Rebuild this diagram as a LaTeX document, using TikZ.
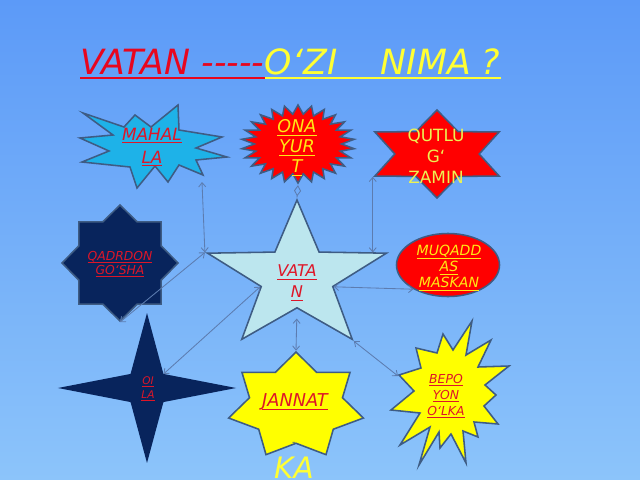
\documentclass[tikz,border=0pt]{standalone}
\usepackage{fontspec}
\setmainfont{DejaVu Sans}[Ligatures=TeXOff]
\usepackage{tikz}
\usepackage{xcolor}
\usetikzlibrary{positioning,shapes.geometric,arrows.meta}

\definecolor{bgtop}{RGB}{92,154,248}
\definecolor{bgbot}{RGB}{140,196,250}
\definecolor{edge}{RGB}{62,92,132}
\definecolor{linkcol}{RGB}{92,124,176}
\definecolor{tred}{RGB}{232,6,30}
\definecolor{tyel}{RGB}{255,255,51}
\definecolor{lred}{RGB}{222,22,40}
\definecolor{lyel}{RGB}{255,232,20}
\definecolor{qyel}{RGB}{236,242,84}
\definecolor{skyfill}{RGB}{30,178,232}
\definecolor{navyfill}{RGB}{8,36,92}
\definecolor{icefill}{RGB}{188,230,238}
\definecolor{sunfill}{RGB}{255,255,0}
\definecolor{firefill}{RGB}{255,0,0}

% underline close to the letters
\newcommand{\uln}[1]{\setbox0\hbox{#1}\rlap{\vrule width\wd0 height -0.13em depth 0.19em}\box0}

\tikzset{
  shapebox/.style={draw=edge, line width=1.1pt, inner sep=0pt},
  burst/.style={draw=edge, line width=1.1pt, line join=miter},
  stretch/.style={xscale=#1, transform shape},
  lbl/.style={align=center, inner sep=0pt},
  link/.style={draw=linkcol, line width=0.6pt, <->},
}

\begin{document}
\begin{tikzpicture}[x=0.025cm, y=0.025cm, >={Straight Barb[length=3pt,width=5pt]}]
  \shade[top color=bgtop, bottom color=bgbot] (0,0) rectangle (640,-480);
  \useasboundingbox (0,0) rectangle (640,-480);

  % title
  \node[lbl, anchor=base west, text=tred, font=\itshape\fontsize{24.7}{30}\selectfont] (title-vatan) at (80,-74) {VATAN -----};
  \node[lbl, anchor=base west, text=tyel, font=\itshape\fontsize{24.7}{30}\selectfont] (title-nima) at (title-vatan.base east) {O‘ZI\ \ \ \kern0.3em NIMA ?};
  \draw[tred, line width=1.5pt] ([yshift=-2.7pt]title-vatan.base west) -- ([yshift=-2.7pt]title-vatan.base east);
  \draw[tyel, line width=1.5pt] ([yshift=-2.7pt]title-nima.base west) -- ([yshift=-2.7pt]title-nima.base east);

  % shapes
  \filldraw[burst, fill=skyfill] (80,-138) -- (113,-135) -- (83,-113) -- (124,-127) -- (135,-115) -- (151,-127)
    -- (178,-105) -- (179,-130) -- (222,-137) -- (196,-148) -- (227,-157) -- (196,-160) -- (203,-175)
    -- (179,-165) -- (168,-182) -- (155,-166) -- (137,-188) -- (130,-167) -- (82,-162) -- (109,-151) -- cycle;
  \node[shapebox, star, star points=26, star point ratio=1.3, fill=firefill, minimum size=1.95cm,
        shift={(298,-144)}, stretch=1.45] (onayurt) {};
  \node[shapebox, star, star points=6, star point ratio=1.7, fill=firefill, minimum size=2.2cm,
        shift={(437,-154)}, stretch=1.63] (qutlug) {};
  \node[shapebox, star, star points=8, star point ratio=1.3, fill=navyfill, minimum size=2.9cm,
        shift={(120,-263)}, stretch=1] (qadrdon) {};
  \node[shapebox, star, star points=5, star point ratio=2.5, fill=icefill, minimum size=3.85cm,
        shift={(297,-277)}, stretch=1.22] (vatan) {};
  \node[shapebox, ellipse, fill=firefill, minimum width=2.575cm, minimum height=1.575cm] (muqaddas) at (448,-265) {};
  \node[shapebox, star, star points=4, star point ratio=3.8, fill=navyfill, draw=navyfill, minimum size=3.6cm,
        shift={(147,-388)}, stretch=1.18] (oila) {};
  \node[shapebox, star, star points=7, star point ratio=1.45, fill=sunfill, minimum size=2.7cm,
        shift={(296,-406)}, stretch=1.28] (jannat) {};
  \filldraw[burst, fill=sunfill] (472,-321) -- (466,-355) -- (491,-340) -- (478,-367) -- (509,-366) -- (485,-385)
    -- (496,-395) -- (484,-406) -- (498,-424) -- (474,-422) -- (478,-437) -- (463,-431) -- (466,-463)
    -- (451,-434) -- (440,-448) -- (439,-432) -- (419,-465) -- (430,-427) -- (400,-445) -- (420,-413)
    -- (391,-410) -- (414,-391) -- (399,-375) -- (421,-368) -- (416,-348) -- (437,-353) -- (443,-334)
    -- (453,-350) -- cycle;

  % labels
  \node[lbl, text=lred, font=\itshape\fontsize{12}{16.4}\selectfont] (mahalla) at (152,-147) {\uln{MAHAL}\\\uln{LA}};
  \node[lbl, text=lyel, font=\itshape\fontsize{12.5}{14.2}\selectfont] (onayurt-txt) at (297,-148) {\uln{ONA}\\\uln{YUR}\\\uln{T}};
  \node[lbl, text=qyel, font=\fontsize{12}{15}\selectfont] (qutlug-txt) at (436,-156) {QUTLU\\G‘\\ZAMIN};
  \node[lbl, text=lred, font=\itshape\fontsize{8.8}{9.4}\selectfont] (qadrdon-txt) at (120,-264) {\uln{QADRDON}\\\uln{GO‘SHA}};
  \node[lbl, text=lred, font=\itshape\fontsize{11.5}{15}\selectfont] (vatan-txt) at (297,-283) {\uln{VATA}\\\uln{N}};
  \node[lbl, text=lyel, font=\itshape\fontsize{10}{11.4}\selectfont] (muqaddas-txt) at (449,-268) {\uln{MUQADD}\\\uln{AS}\\\uln{MASKAN}};
  \node[lbl, text=lred, font=\itshape\fontsize{7.5}{10}\selectfont] (oila-txt) at (148,-389) {\uln{OI}\\\uln{LA}};
  \node[lbl, text=lred, font=\itshape\fontsize{12.6}{15}\selectfont] (jannat-txt) at (295,-402) {\uln{JANNAT}};
  \node[lbl, text=lred, font=\itshape\fontsize{8.8}{11.4}\selectfont] (bepoyon) at (446,-396) {\uln{BEPO}\\\uln{YON}\\\uln{O‘LKA}};
  \node[lbl, text=edge, font=\fontsize{7}{8}\selectfont] (jannat-dash) at (294,-444) {-};
  \node[lbl, anchor=north, text=tyel, font=\itshape\fontsize{21}{25}\selectfont] (jannat-ka) at (294,-457) {KA};

  % link ends beside the bursts
  \coordinate (mahalla-foot) at (202,-182);
  \coordinate (bepoyon-side) at (398,-376);

  % links
  \draw[link] (vatan.outer point 2) -- (mahalla-foot);
  \draw[link] (vatan.outer point 2) -- (qadrdon.outer point 5);
  \draw[draw=linkcol, line width=0.6pt, -{Diamond[open,length=8pt,width=5pt]}] (vatan.outer point 1) -- (onayurt.south);
  \draw[link] (vatan.outer point 5 -| qutlug.outer point 3) -- (qutlug.outer point 3);
  \draw[link] (vatan.inner point 4) -- (muqaddas.215);
  \draw[link] (vatan.inner point 2) -- (oila.inner point 4);
  \draw[link, shorten <=7pt] (vatan.inner point 3) -- (jannat.outer point 1);
  \draw[link] (vatan.outer point 4) -- (bepoyon-side);
\end{tikzpicture}
\end{document}
